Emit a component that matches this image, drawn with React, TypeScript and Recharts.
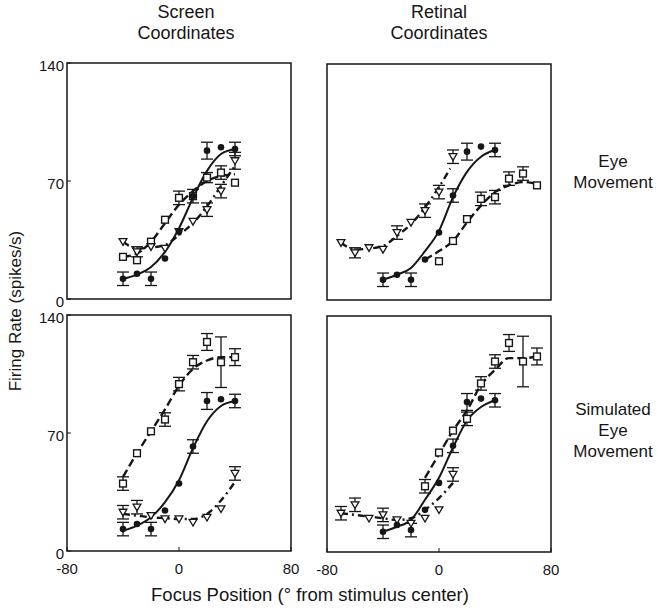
import React from 'react';
import { ComposedChart, Line, Scatter, XAxis, YAxis, ErrorBar, ReferenceArea } from 'recharts';

const xTicks = [-80, 0, 80];
const yTicks = [0, 70, 140];

// screen coordinates, eye movement
const tlCircleX = [-40, -30, -20, -10, 0, 10, 20, 30, 40];
const tlCircle = [12, 15, 12, 24, 40, 61, 88, 90, 89];
const tlCircleErr = [4, 0, 4, 0, 0, 4, 5, 0, 4];
const tlCircleFit = [12, 14.5, 19, 28, 42, 60, 76, 86, 89];
const tlSquareX = [-40, -30, -20, -10, 0, 10, 20, 30, 40];
const tlSquare = [25, 23, 34, 47, 60, 61, 72, 75, 69];
const tlSquareErr = [0, 0, 0, 0, 4, 0, 3, 4, 0];
const tlSquareFit = [25, 27, 34, 45, 56, 64, 70, 73, 74];
const tlTriX = [-40, -30, -20, -10, 0, 10, 20, 30, 40];
const tlTri = [34, 28, 31, 30, 40, 46, 53, 64, 82];
const tlTriErr = [0, 3, 0, 0, 0, 0, 4, 4, 5];
const tlTriFit = [34, 30, 30.5, 32, 38, 45, 55, 67, 79];

// retinal coordinates, eye movement
const trCircleX = [-40, -30, -20, -10, 0, 10, 20, 30, 40];
const trCircle = [12, 15, 12, 24, 40, 62, 88, 91, 89];
const trCircleErr = [4, 0, 4, 0, 0, 4, 5, 0, 4];
const trCircleFit = [12, 15, 19, 29, 41, 61, 76, 85, 89];
const trSquareX = [0, 10, 20, 30, 40, 50, 60, 70];
const trSquare = [23, 35, 48, 60, 61, 72, 75, 68];
const trSquareErr = [0, 0, 0, 4, 4, 4, 4, 0];
const trSquareFitX = [-10, 0, 10, 20, 30, 40, 50, 60, 70];
const trSquareFit = [24, 29, 35, 46, 56, 64, 68, 70, 69];
const trTriX = [-70, -60, -50, -40, -30, -20, -10, 0, 10];
const trTri = [34, 28, 31, 30, 40, 46, 53, 64, 85];
const trTriErr = [0, 3, 0, 0, 4, 0, 4, 4, 4];
const trTriFitX = [-70, -60, -50, -40, -30, -20, -10, 0, 8];
const trTriFit = [34, 30, 30.5, 32, 38, 45, 55, 67, 78];

// screen coordinates, simulated eye movement
const blCircleX = [-40, -30, -20, -10, 0, 10, 20, 30, 40];
const blCircle = [13, 16, 13, 24, 40, 62, 89, 90, 89];
const blCircleErr = [4, 0, 4, 0, 0, 4, 5, 0, 4];
const blCircleFit = [12, 15, 20, 29, 42, 61, 77, 86, 89];
const blSquareX = [-40, -30, -20, -10, 0, 10, 20, 30, 40];
const blSquare = [40, 58, 71, 78, 99, 112, 124, 112, 115];
const blSquareErr = [4, 0, 0, 4, 4, 4, 5, 15, 5];
const blSquareFit = [44, 58, 71, 84, 98, 108, 113, 115, 115];
const blTriX = [-40, -30, -20, -10, 0, 10, 20, 30, 40];
const blTri = [23, 26, 21, 19, 19, 17, 20, 25, 46];
const blTriErr = [4, 4, 0, 0, 0, 0, 0, 0, 4];
const blTriFit = [22, 21, 20, 19.5, 19, 19, 22, 30, 41];

// retinal coordinates, simulated eye movement
const brCircleX = [-40, -30, -20, -10, 0, 10, 20, 30, 40];
const brCircle = [12, 16, 13, 25, 41, 63, 89, 91, 90];
const brCircleErr = [4, 0, 4, 0, 0, 4, 5, 0, 4];
const brCircleFit = [12, 15, 19, 31, 44, 62, 78, 86, 90];
const brSquareX = [-10, 0, 10, 20, 30, 40, 50, 60, 70];
const brSquare = [39, 59, 72, 79, 100, 113, 124, 113, 116];
const brSquareErr = [4, 0, 0, 4, 4, 4, 5, 15, 5];
const brSquareFit = [44, 58, 72, 84, 99, 108, 115, 115, 116];
const brTriX = [-70, -60, -50, -40, -30, -20, -10, 0, 10];
const brTri = [23, 28, 20, 22, 19, 17, 20, 25, 46];
const brTriErr = [4, 4, 0, 4, 0, 0, 0, 0, 4];
const brTriFit = [23, 22, 21, 20, 19, 20, 25, 32, 41];

const INK = '#161616';
const FONT = '"Liberation Sans", Arial, Helvetica, sans-serif';

const pts = (xs: number[], ys: number[], errs?: number[]) =>
  xs.map((x, i) => ({ x, y: ys[i], e: errs && errs[i] ? errs[i] : undefined }));

const DotShape = (p: any) => <circle cx={p.cx} cy={p.cy} r={3.3} fill={INK} />;
const BoxShape = (p: any) => (
  <rect x={p.cx - 3.4} y={p.cy - 3.4} width={6.8} height={6.8} fill="#fff" stroke={INK} strokeWidth={1.4} />
);
const TriShape = (p: any) => (
  <path
    d={`M${p.cx - 3.9},${p.cy - 3} L${p.cx + 3.9},${p.cy - 3} L${p.cx},${p.cy + 3.7} Z`}
    fill="#fff"
    stroke={INK}
    strokeWidth={1.3}
  />
);

const XTick = (p: any) => (
  <text x={p.x} y={p.y} dy="0.71em" textAnchor="middle" fill={INK} fontSize={15} fontFamily={FONT}>
    {String(p.payload.value)}
  </text>
);
const YTick = (p: any) => (
  <text x={p.x} y={p.y} dy="0.5em" textAnchor="end" fill={INK} fontSize={15} fontFamily={FONT}>
    {String(p.payload.value)}
  </text>
);

type PanelProps = {
  left: number;
  top: number;
  xLabels: boolean;
  yLabels: boolean;
  circles: any[];
  circleFit: any[];
  squares: any[];
  squareFit: any[];
  tris: any[];
  triFit: any[];
};

const PW = 224;
const PH = 236;

function Panel({ left, top, xLabels, yLabels, circles, circleFit, squares, squareFit, tris, triFit }: PanelProps) {
  const yW = yLabels ? 45 : 20;
  const xH = xLabels ? 32 : 14;
  return (
    <div style={{ position: 'absolute', left: left - yW, top: top - 10 }}>
      <ComposedChart width={yW + PW + 14} height={10 + PH + xH} margin={{ top: 10, right: 14, bottom: 0, left: 0 }}>
        <XAxis
          type="number"
          dataKey="x"
          domain={[-80, 80]}
          ticks={xTicks}
          interval={0}
          allowDataOverflow
          axisLine={false}
          tickLine={{ stroke: INK }}
          tickSize={-4}
          tickMargin={16}
          height={xH}
          tick={xLabels ? XTick : false}
        />
        <YAxis
          type="number"
          dataKey="y"
          domain={[0, 140]}
          ticks={yTicks}
          interval={0}
          allowDataOverflow
          axisLine={false}
          tickLine={{ stroke: INK }}
          tickSize={-4}
          tickMargin={7}
          width={yW}
          tick={yLabels ? YTick : false}
        />
        <ReferenceArea x1={-80} x2={80} y1={0} y2={140} fill="none" fillOpacity={0} stroke={INK} strokeWidth={1.5} />
        <Line data={squareFit} dataKey="y" type="monotone" stroke={INK} strokeWidth={2.4} strokeDasharray="8 4" dot={false} activeDot={false} isAnimationActive={false} />
        <Line data={triFit} dataKey="y" type="monotone" stroke={INK} strokeWidth={2.4} strokeDasharray="7 4 2 4" dot={false} activeDot={false} isAnimationActive={false} />
        <Line data={circleFit} dataKey="y" type="monotone" stroke={INK} strokeWidth={2} dot={false} activeDot={false} isAnimationActive={false} />
        <Scatter data={squares} dataKey="y" shape={BoxShape} isAnimationActive={false}>
          <ErrorBar dataKey="e" direction="y" width={6} stroke={INK} strokeWidth={1.3} />
        </Scatter>
        <Scatter data={tris} dataKey="y" shape={TriShape} isAnimationActive={false}>
          <ErrorBar dataKey="e" direction="y" width={6} stroke={INK} strokeWidth={1.3} />
        </Scatter>
        <Scatter data={circles} dataKey="y" shape={DotShape} isAnimationActive={false}>
          <ErrorBar dataKey="e" direction="y" width={6} stroke={INK} strokeWidth={1.3} />
        </Scatter>
      </ComposedChart>
    </div>
  );
}

const textStyle: React.CSSProperties = {
  position: 'absolute',
  fontFamily: FONT,
  fontSize: 18,
  color: INK,
  textAlign: 'center',
  lineHeight: '21px',
  whiteSpace: 'nowrap',
};

export default function App() {
  return (
    <div style={{ position: 'relative', width: 657, height: 615, background: '#fff', overflow: 'hidden' }}>
      <style>{'body{margin:0}'}</style>
      <div style={{ ...textStyle, left: 86, top: 2, width: 200 }}>Screen<br />Coordinates</div>
      <div style={{ ...textStyle, left: 339, top: 2, width: 200 }}>Retinal<br />Coordinates</div>
      <div style={{ ...textStyle, fontSize: 17, left: 563, top: 151, width: 100 }}>Eye<br />Movement</div>
      <div style={{ ...textStyle, fontSize: 17, left: 563, top: 399, width: 100 }}>Simulated<br />Eye<br />Movement</div>
      <div style={{ ...textStyle, fontSize: 17, left: 16 - 120, top: 311 - 11, width: 240, height: 22, transform: 'rotate(-90deg)' }}>
        Firing Rate (spikes/s)
      </div>
      <div style={{ ...textStyle, fontSize: 18.5, left: 110, top: 584, width: 400 }}>Focus Position (° from stimulus center)</div>

      <Panel
        left={67}
        top={63}
        xLabels={false}
        yLabels
        circles={pts(tlCircleX, tlCircle, tlCircleErr)}
        circleFit={pts(tlCircleX, tlCircleFit)}
        squares={pts(tlSquareX, tlSquare, tlSquareErr)}
        squareFit={pts(tlSquareX, tlSquareFit)}
        tris={pts(tlTriX, tlTri, tlTriErr)}
        triFit={pts(tlTriX, tlTriFit)}
      />
      <Panel
        left={327}
        top={64}
        xLabels={false}
        yLabels={false}
        circles={pts(trCircleX, trCircle, trCircleErr)}
        circleFit={pts(trCircleX, trCircleFit)}
        squares={pts(trSquareX, trSquare, trSquareErr)}
        squareFit={pts(trSquareFitX, trSquareFit)}
        tris={pts(trTriX, trTri, trTriErr)}
        triFit={pts(trTriFitX, trTriFit)}
      />
      <Panel
        left={67}
        top={315}
        xLabels
        yLabels
        circles={pts(blCircleX, blCircle, blCircleErr)}
        circleFit={pts(blCircleX, blCircleFit)}
        squares={pts(blSquareX, blSquare, blSquareErr)}
        squareFit={pts(blSquareX, blSquareFit)}
        tris={pts(blTriX, blTri, blTriErr)}
        triFit={pts(blTriX, blTriFit)}
      />
      <Panel
        left={327}
        top={316}
        xLabels
        yLabels={false}
        circles={pts(brCircleX, brCircle, brCircleErr)}
        circleFit={pts(brCircleX, brCircleFit)}
        squares={pts(brSquareX, brSquare, brSquareErr)}
        squareFit={pts(brSquareX, brSquareFit)}
        tris={pts(brTriX, brTri, brTriErr)}
        triFit={pts(brTriX, brTriFit)}
      />
    </div>
  );
}
